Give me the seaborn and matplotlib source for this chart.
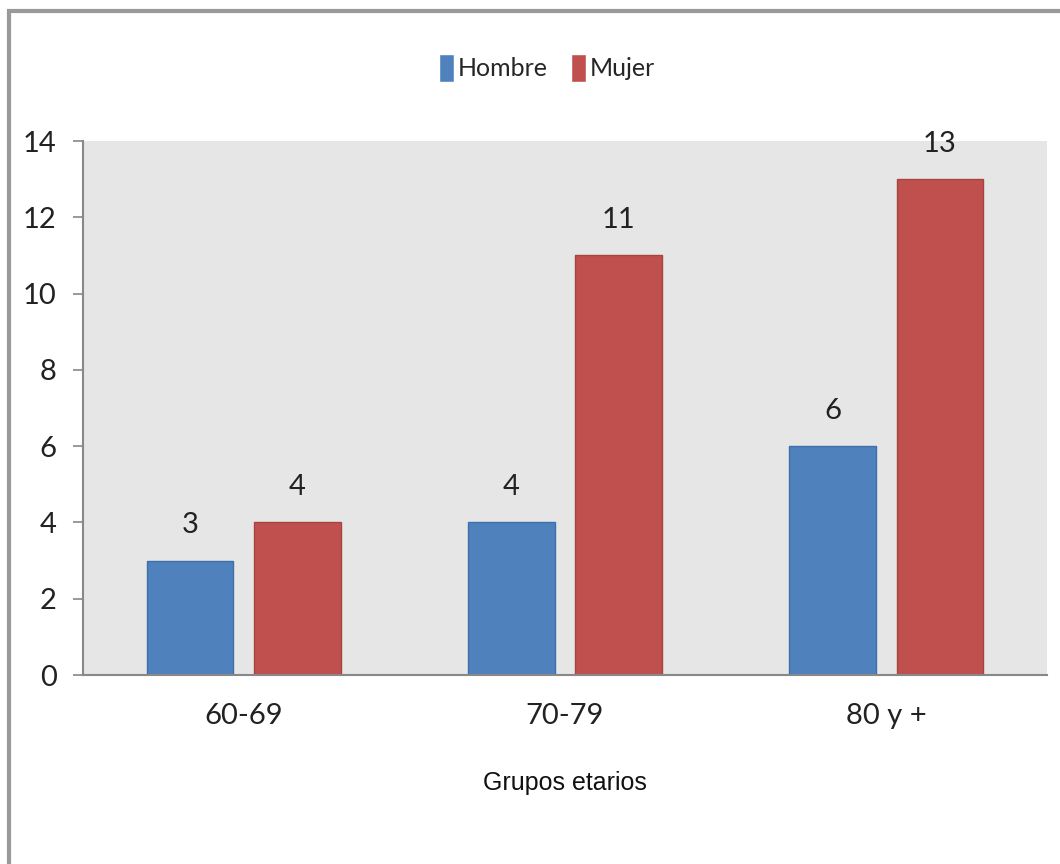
import pandas as pd
import matplotlib.pyplot as plt
import seaborn as sns
from matplotlib.patches import Rectangle

# Datos
grupos = ['60-69', '70-79', '80 y +']
sexos = ['Hombre', 'Mujer']
hombre = [3, 4, 6]
mujer = [4, 11, 13]

df = pd.DataFrame({
    'Grupo': grupos * 2,
    'Sexo': ['Hombre'] * len(grupos) + ['Mujer'] * len(grupos),
    'Casos': hombre + mujer,
})

sns.set_style('white')
narrow = ['Lato', 'DejaVu Sans']
plt.rcParams['font.family'] = narrow

fig = plt.figure(figsize=(10.6, 8.64), dpi=100)
ax = fig.add_axes([83 / 1060, 1 - 675 / 864, (1047 - 83) / 1060, (675 - 141) / 864])

colores = {'Hombre': '#4F81BD', 'Mujer': '#C0504D'}
bordes = ['#3F6FA8', '#A84340']
sns.barplot(data=df, x='Grupo', y='Casos', hue='Sexo', hue_order=sexos,
            palette=colores, saturation=1, width=0.667, gap=0.19, ax=ax, legend=True)

for cont, borde in zip(ax.containers, bordes):
    for b in cont:
        b.set_edgecolor(borde)
        b.set_linewidth(1.0)
    ax.bar_label(cont, padding=16, fontsize=21, color='#222222', family=narrow)

ax.set_facecolor('#E6E6E6')
ax.set_ylim(0, 14)
ax.set_xlim(-0.5, 2.5)
ax.set_yticks(range(0, 15, 2))
ax.tick_params(axis='y', left=True, length=7, width=1.2, color='#888888',
               labelsize=21, labelcolor='#222222', pad=12)
ax.tick_params(axis='x', bottom=False, labelsize=21, labelcolor='#222222', pad=17)
for s in ['top', 'right']:
    ax.spines[s].set_visible(False)
for s in ['left', 'bottom']:
    ax.spines[s].set_color('#888888')
    ax.spines[s].set_linewidth(1.5)

ax.set_ylabel('')
ax.set_xlabel('Grupos etarios', fontsize=18, family=['Liberation Sans', 'DejaVu Sans'],
              color='#111111', labelpad=30)

handles, labels = ax.get_legend_handles_labels()
ax.legend(handles, labels, loc='center', bbox_to_anchor=(0.516, 1 - 68 / 864),
          bbox_transform=fig.transFigure, ncol=2, frameon=False, fontsize=18,
          handlelength=0.6, handleheight=1.4, handletextpad=0.15, columnspacing=0.9)

# Marco exterior (recortado en la imagen original)
fig.patches.append(Rectangle((9 / 1060, -0.1), 1.2, 1 - 11 / 864 + 0.1,
                             transform=fig.transFigure, fill=False,
                             edgecolor='#999999', linewidth=3))

plt.savefig('out.png', dpi=100)
